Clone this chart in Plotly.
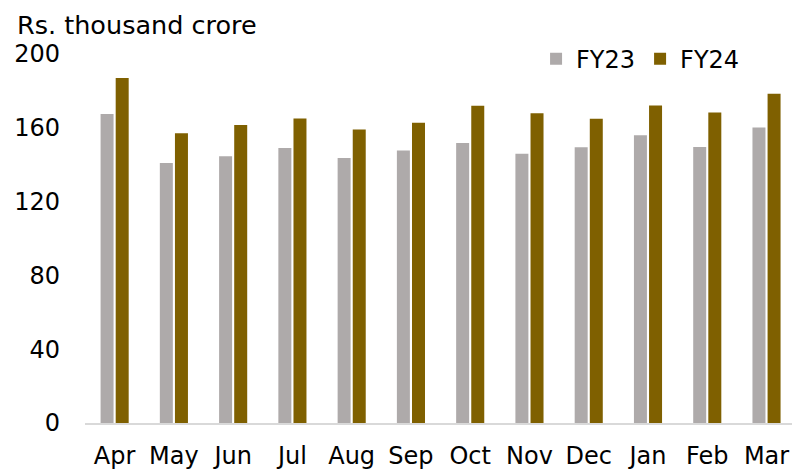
import plotly.graph_objects as go

months = ["Apr", "May", "Jun", "Jul", "Aug", "Sep", "Oct", "Nov", "Dec", "Jan", "Feb", "Mar"]
fy23 = [167.5, 140.9, 144.6, 149.0, 143.6, 147.7, 151.7, 145.9, 149.5, 155.9, 149.6, 160.1]
fy24 = [187.0, 157.1, 161.5, 165.1, 159.1, 162.7, 172.0, 167.9, 164.9, 172.1, 168.3, 178.5]
y_ticks = [0, 40, 80, 120, 160, 200]

FONT = "DejaVu Sans"

fig = go.Figure()
fig.add_trace(go.Bar(x=months, y=fy23, name="FY23", marker=dict(color="#AEAAAA", line=dict(width=0))))
fig.add_trace(go.Bar(x=months, y=fy24, name="FY24", marker=dict(color="#7F6000", line=dict(width=0))))

fig.update_layout(
    width=792, height=470,
    margin=dict(l=85, r=0, t=54, b=47),
    paper_bgcolor="white", plot_bgcolor="white",
    barmode="group", bargap=0.49, bargroupgap=0.14,
    font=dict(family=FONT, size=24, color="#000000"),
    showlegend=True,
    legend=dict(orientation="h", x=0.638, y=0.986, xanchor="left", yanchor="middle",
                font=dict(size=24, family=FONT), bgcolor="rgba(0,0,0,0)",
                itemwidth=30, traceorder="normal"),
    xaxis=dict(range=[-0.5, 11.43], showgrid=False, showline=True, linecolor="#D9D9D9",
               linewidth=2, ticks="", tickfont=dict(size=24, family=FONT), zeroline=False,
               automargin=False, ticklabelstandoff=10),
    yaxis=dict(range=[0, 200], tickvals=y_ticks, showgrid=False, showline=False, zeroline=False,
               ticks="", tickfont=dict(size=24, family=FONT), ticklabelstandoff=24,
               automargin=False),
    annotations=[dict(text="Rs. thousand crore", xref="paper", yref="paper", x=-0.099, y=1.0,
                      xanchor="left", yanchor="bottom", yshift=12, showarrow=False,
                      font=dict(size=25.5, family=FONT))],
)

# remove the default page margin and scrollbars so the figure fills the window exactly
post_js = (
    "document.body.style.margin='0';"
    "document.body.style.overflow='hidden';"
    "document.documentElement.style.overflow='hidden';"
)

fig.write_html("out.html", post_script=post_js, config={"displayModeBar": False})
